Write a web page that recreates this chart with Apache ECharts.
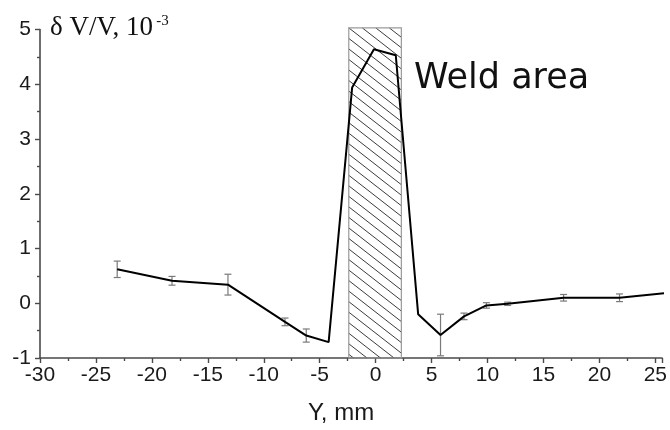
<!DOCTYPE html>
<html>
<head>
<meta charset="utf-8">
<script src="https://cdn.jsdelivr.net/npm/echarts@6/dist/echarts.min.js"></script>
<style>
  html, body { margin: 0; padding: 0; background: #fff; overflow: hidden; }
  #chart { width: 670px; height: 430px; }
</style>
</head>
<body>
<div id="chart"></div>
<script>
// Position across the weld, mm
var posY = [-23.1, -18.2, -13.2, -8.1, -6.2, -4.2, -2.1, -0.15, 1.8, 3.8, 5.8, 7.9, 9.9, 11.8, 16.8, 21.8, 27.0];
// Relative velocity change dV/V, units of 1e-3
var dVV = [0.62, 0.41, 0.34, -0.34, -0.59, -0.71, 3.94, 4.64, 4.53, -0.20, -0.58, -0.24, -0.04, -0.01, 0.10, 0.10, 0.21];
// Half-length of the error bar at each point (null = no bar)
var dVVErr = [0.15, 0.08, 0.19, 0.07, 0.12, null, null, null, null, null, 0.38, 0.06, 0.05, 0.03, 0.06, 0.07, null];
// Extent of the weld zone: [Y from, Y to, dV/V bottom, dV/V top]
var weldZone = [-2.4, 2.3, -1, 5.03];

var xTicks = { min: -30, max: 25.6, step: 5 };
var yTicks = { min: -1, max: 5, step: 1 };

var lineData = posY.map(function (x, i) { return [x, dVV[i]]; });
var errData = [];
posY.forEach(function (x, i) {
  if (dVVErr[i] != null) errData.push([x, dVV[i] - dVVErr[i], dVV[i] + dVVErr[i]]);
});

var axisColor = '#4a4a4a';
var labelFont = { fontFamily: 'Liberation Sans', fontSize: 21, color: '#1a1a1a' };

function renderWeld(params, api) {
  var tl = api.coord([api.value(0), api.value(3)]);
  var br = api.coord([api.value(1), api.value(2)]);
  var xL = tl[0], yT = tl[1], xR = br[0], yB = br[1];
  var k = 0.78;          // slope of the hatch lines (down to the right)
  var dx = 13.5;         // horizontal spacing of hatch lines
  var dc = dx * k;
  var children = [];
  var c0 = yT - k * xL;
  var cMin = yT - k * xR, cMax = yB - k * xL;
  var start = c0 - Math.ceil((c0 - cMin) / dc) * dc;
  for (var c = start; c <= cMax; c += dc) {
    var xa = Math.max(xL, (yT - c) / k);
    var xb = Math.min(xR, (yB - c) / k);
    if (xb - xa < 0.5) continue;
    children.push({
      type: 'line',
      shape: { x1: xa, y1: k * xa + c, x2: xb, y2: k * xb + c },
      style: { stroke: '#3c3c3c', lineWidth: 1 }
    });
  }
  children.push({
    type: 'rect',
    shape: { x: xL, y: yT, width: xR - xL, height: yB - yT },
    style: { fill: null, stroke: '#9a9a9a', lineWidth: 1.2 }
  });
  return { type: 'group', children: children };
}

function renderErr(params, api) {
  var x = api.value(0);
  var lo = api.coord([x, api.value(1)]);
  var hi = api.coord([x, api.value(2)]);
  var w = 3.5;
  var st = { stroke: '#7a7a7a', lineWidth: 1.2 };
  return {
    type: 'group',
    children: [
      { type: 'line', shape: { x1: lo[0], y1: lo[1], x2: hi[0], y2: hi[1] }, style: st },
      { type: 'line', shape: { x1: lo[0] - w, y1: lo[1], x2: lo[0] + w, y2: lo[1] }, style: st },
      { type: 'line', shape: { x1: hi[0] - w, y1: hi[1], x2: hi[0] + w, y2: hi[1] }, style: st }
    ]
  };
}

var chart = echarts.init(document.getElementById('chart'), null, { renderer: 'canvas', width: 670, height: 430 });
chart.setOption({
  animation: false,
  backgroundColor: '#ffffff',
  grid: { left: 40, top: 29.5, bottom: 70, right: 0, containLabel: false },
  xAxis: {
    type: 'value',
    min: xTicks.min, max: xTicks.max, interval: xTicks.step,
    name: 'Y, mm',
    nameLocation: 'middle',
    nameGap: 43,
    nameTextStyle: { fontFamily: 'Liberation Sans', fontSize: 24, color: '#1a1a1a', padding: [0, 20, 0, 0] },
    axisLine: { show: true, onZero: false, lineStyle: { color: axisColor, width: 1.6 } },
    axisTick: { show: true, length: 5, lineStyle: { color: axisColor, width: 1.4 } },
    minorTick: { show: true, splitNumber: 2, length: 3, lineStyle: { color: axisColor, width: 1.4 } },
    axisLabel: Object.assign({ margin: 7, showMaxLabel: false }, labelFont),
    splitLine: { show: false }
  },
  yAxis: {
    type: 'value',
    min: yTicks.min, max: yTicks.max, interval: yTicks.step,
    axisLine: { show: true, onZero: false, lineStyle: { color: axisColor, width: 1.6 } },
    axisTick: { show: true, length: 5, lineStyle: { color: axisColor, width: 1.4 } },
    minorTick: { show: true, splitNumber: 2, length: 3, lineStyle: { color: axisColor, width: 1.4 } },
    axisLabel: Object.assign({ margin: 9 }, labelFont),
    splitLine: { show: false }
  },
  graphic: [
    {
      type: 'text', left: 50, top: 14,
      style: {
        rich: {
          m: { fontFamily: 'Liberation Serif', fontSize: 27, fill: '#111' },
          s: { fontFamily: 'Liberation Serif', fontSize: 15, fill: '#111', verticalAlign: 'top', padding: [0, 0, 12, 0] }
        },
        text: '{m|\u03B4 V/V, 10} {s|-3}'
      }
    },
    {
      type: 'text', left: 414, top: 61,
      style: { text: 'Weld area', fontFamily: 'DejaVu Sans', fontSize: 35, fill: '#111' }
    }
  ],
  series: [
    {
      type: 'custom',
      name: 'weld',
      renderItem: renderWeld,
      data: [weldZone],
      clip: false,
      silent: true,
      z: 1
    },
    {
      type: 'custom',
      name: 'error',
      renderItem: renderErr,
      data: errData,
      z: 2
    },
    {
      type: 'line',
      name: 'dV/V',
      data: lineData,
      showSymbol: false,
      clip: true,
      lineStyle: { color: '#000', width: 2 },
      z: 3
    }
  ]
});
</script>
</body>
</html>
